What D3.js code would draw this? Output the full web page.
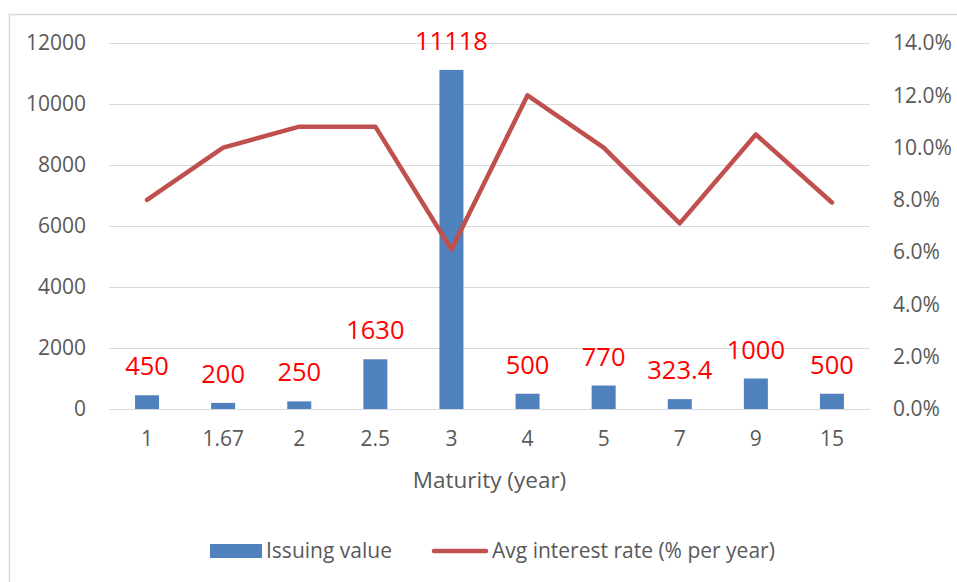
<!DOCTYPE html>
<html>
<head>
<meta charset="utf-8">
<script src="https://cdn.jsdelivr.net/npm/d3@7"></script>
<style>
  body { margin: 0; background: #fff; }
  svg text { font-family: "Open Sans", sans-serif; }
</style>
</head>
<body>
<div id="chart"></div>
<script>
// chart data
const maturities = ['1', '1.67', '2', '2.5', '3', '4', '5', '7', '9', '15'];
const issuingValues = [450, 200, 250, 1630, 11118, 500, 770, 323.4, 1000, 500];
const valueLabels = ['450', '200', '250', '1630', '11118', '500', '770', '323.4', '1000', '500'];
const avgRates = [0.080, 0.100, 0.108, 0.108, 0.061, 0.120, 0.100, 0.071, 0.105, 0.079];
const leftTicks = [0, 2000, 4000, 6000, 8000, 10000, 12000];
const rightTicks = [0, 0.02, 0.04, 0.06, 0.08, 0.10, 0.12, 0.14];

const width = 957;
const height = 582;
const margin = { top: 43, right: 87, bottom: 173, left: 109 };
const plotW = width - margin.left - margin.right;
const plotH = height - margin.top - margin.bottom;

const svg = d3.select('#chart').append('svg')
  .attr('width', width)
  .attr('height', height);

// outer frame
svg.append('rect')
  .attr('x', 9.5).attr('y', 14.5)
  .attr('width', 960).attr('height', 600)
  .attr('fill', 'none')
  .attr('stroke', '#d9d9d9')
  .attr('stroke-width', 1.5);

const g = svg.append('g').attr('transform', `translate(${margin.left},${margin.top})`);

const x = d3.scaleBand().domain(maturities).range([0, plotW]);
const yLeft = d3.scaleLinear().domain([0, 12000]).range([plotH, 0]);
const yRight = d3.scaleLinear().domain([0, 0.14]).range([plotH, 0]);

// gridlines
g.append('g')
  .selectAll('line')
  .data(leftTicks)
  .join('line')
    .attr('x1', 0).attr('x2', plotW)
    .attr('y1', d => Math.round(yLeft(d)) + 0.5)
    .attr('y2', d => Math.round(yLeft(d)) + 0.5)
    .attr('stroke', '#d9d9d9')
    .attr('stroke-width', 1.2);

// left axis
const leftAxis = g.append('g')
  .call(d3.axisLeft(yLeft).tickValues(leftTicks).tickSize(0).tickPadding(23).tickFormat(d3.format('d')));
leftAxis.select('.domain').remove();
leftAxis.selectAll('text').attr('fill', '#595959').attr('font-size', '21px');

// right axis
const rightAxis = g.append('g')
  .attr('transform', `translate(${plotW},0)`)
  .call(d3.axisRight(yRight).tickValues(rightTicks).tickSize(0).tickPadding(23).tickFormat(d3.format('.1%')));
rightAxis.select('.domain').remove();
rightAxis.selectAll('text').attr('fill', '#595959').attr('font-size', '21px');

// bottom category labels
const bottomAxis = g.append('g')
  .attr('transform', `translate(0,${plotH})`)
  .call(d3.axisBottom(x).tickSize(0).tickPadding(22));
bottomAxis.select('.domain').remove();
bottomAxis.selectAll('text').attr('fill', '#595959').attr('font-size', '21px');

// x axis title
g.append('text')
  .attr('x', plotW / 2)
  .attr('y', plotH + 79)
  .attr('text-anchor', 'middle')
  .attr('fill', '#595959')
  .attr('font-size', '22.5px')
  .text('Maturity (year)');

// bars
const barW = 24;
g.append('g')
  .selectAll('rect')
  .data(issuingValues)
  .join('rect')
    .attr('x', (d, i) => x(maturities[i]) + x.bandwidth() / 2 - barW / 2)
    .attr('y', d => yLeft(d))
    .attr('width', barW)
    .attr('height', d => plotH - yLeft(d))
    .attr('fill', '#4f81bd');

// rate line
const line = d3.line()
  .x((d, i) => x(maturities[i]) + x.bandwidth() / 2)
  .y(d => yRight(d));

g.append('path')
  .datum(avgRates)
  .attr('fill', 'none')
  .attr('stroke', '#c0504d')
  .attr('stroke-width', 4.5)
  .attr('stroke-linejoin', 'round')
  .attr('stroke-linecap', 'round')
  .attr('d', line);

// data labels
g.append('g')
  .selectAll('text')
  .data(issuingValues)
  .join('text')
    .attr('x', (d, i) => x(maturities[i]) + x.bandwidth() / 2)
    .attr('y', d => yLeft(d) - 20)
    .attr('text-anchor', 'middle')
    .attr('fill', '#ff0000')
    .attr('font-size', '25.5px')
    .text((d, i) => valueLabels[i]);

// legend
const legend = svg.append('g');
legend.append('rect')
  .attr('x', 210).attr('y', 544)
  .attr('width', 52).attr('height', 14)
  .attr('fill', '#4f81bd');
legend.append('text')
  .attr('x', 266).attr('y', 551)
  .attr('dy', '0.35em')
  .attr('fill', '#595959')
  .attr('font-size', '21px')
  .text('Issuing value');
legend.append('line')
  .attr('x1', 434).attr('x2', 486)
  .attr('y1', 551).attr('y2', 551)
  .attr('stroke', '#c0504d')
  .attr('stroke-width', 4.5)
  .attr('stroke-linecap', 'round');
legend.append('text')
  .attr('x', 492).attr('y', 551)
  .attr('dy', '0.35em')
  .attr('fill', '#595959')
  .attr('font-size', '21px')
  .text('Avg interest rate (% per year)');
</script>
</body>
</html>
